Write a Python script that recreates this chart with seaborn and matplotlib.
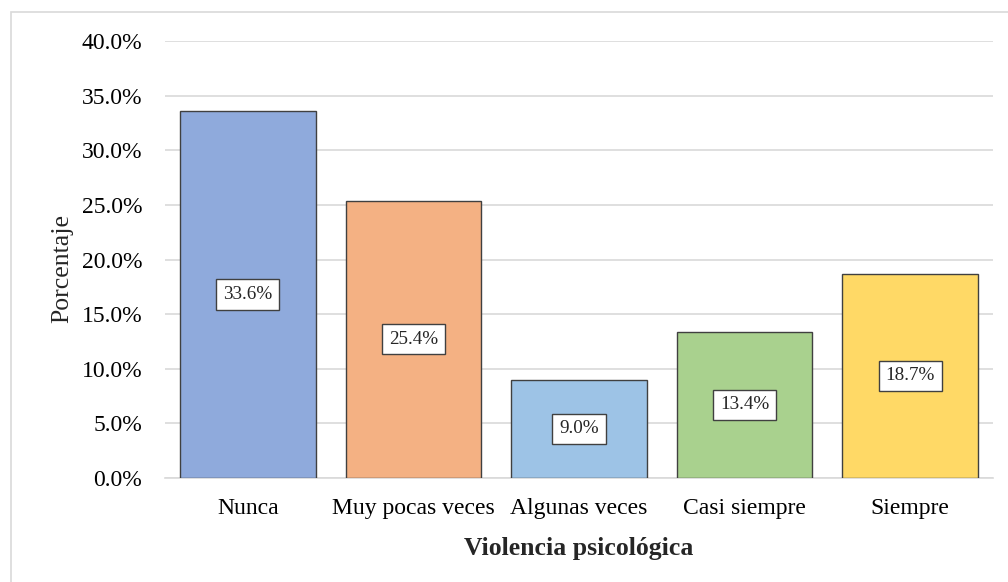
import matplotlib
matplotlib.use("Agg")
import matplotlib.pyplot as plt
import seaborn as sns
import pandas as pd
from matplotlib.patches import Rectangle
from matplotlib.ticker import FuncFormatter

categories = ["Nunca", "Muy pocas veces", "Algunas veces", "Casi siempre", "Siempre"]
values = [33.6, 25.4, 9.0, 13.4, 18.7]
colors = ["#8FAADC", "#F4B183", "#9DC3E6", "#A9D18E", "#FFD966"]
yticks = [0, 5, 10, 15, 20, 25, 30, 35, 40]

sns.set_theme(style="white")
plt.rcParams['font.family'] = ['Liberation Serif', 'DejaVu Serif']

df = pd.DataFrame({"cat": categories, "val": values})

fig = plt.figure(figsize=(10.08, 5.82), dpi=100)
fig.patches.append(Rectangle((10.5/1008, -0.1), 1.2, 1.1 - 11.5/582, transform=fig.transFigure,
                             fill=False, edgecolor="#D9D9D9", linewidth=1.2))
ax = fig.add_axes([165/1008, 1 - 478/582, (993 - 165)/1008, (478 - 41)/582])

sns.barplot(data=df, x="cat", y="val", hue="cat", palette=colors, legend=False, saturation=1,
            width=0.818, edgecolor="#404040", linewidth=1.0, ax=ax, zorder=3)

ax.set_xlim(-0.5, 4.5)
ax.set_ylim(0, 40)
ax.set_yticks(yticks)
ax.yaxis.set_major_formatter(FuncFormatter(lambda v, p: f"{v:.1f}%"))
ax.grid(axis="y", color="#D9D9D9", linewidth=1.2, zorder=0)
ax.set_axisbelow(True)
for s in ["top", "right", "left"]:
    ax.spines[s].set_visible(False)
ax.spines["bottom"].set_color("#D9D9D9")
ax.spines["bottom"].set_linewidth(1.2)
ax.tick_params(axis="both", length=0, labelsize=17, colors="black")
ax.tick_params(axis="x", pad=14.5)
ax.tick_params(axis="y", pad=16.5)

for i, v in enumerate(values):
    ax.text(i, v / 2, f"{v:.1f}%", ha="center", va="center", fontsize=13.8, zorder=5,
            bbox=dict(boxstyle="square,pad=0.35", facecolor="white", edgecolor="#404040", linewidth=1.0))

ax.set_ylabel("Porcentaje", fontsize=18.5)
ax.yaxis.set_label_coords(-0.111, 0.479)
ax.set_xlabel("Violencia psicológica", fontsize=18.5, fontweight="bold", labelpad=13)

fig.savefig("out.png", dpi=100)
